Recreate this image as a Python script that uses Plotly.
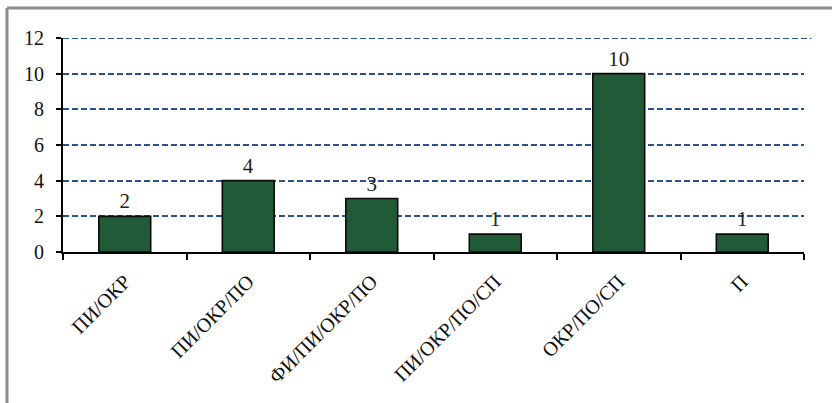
import plotly.graph_objects as go

categories = ["ПИ/ОКР", "ПИ/ОКР/ПО", "ФИ/ПИ/ОКР/ПО", "ПИ/ОКР/ПО/СП", "ОКР/ПО/СП", "П"]
counts = [2, 4, 3, 1, 10, 1]
y_ticks = [0, 2, 4, 6, 8, 10, 12]

W, H = 832, 403
L, R, T, B = 63, 28, 38, 151
pw, ph = W - L - R, H - T - B

def px_x(x):
    return (x - L) / pw

def px_y(y):
    return (H - B - y) / ph

serif = "Liberation Serif"
grid_color = "#2b5190"
frame = dict(color="#8e8e8e", width=3)

fig = go.Figure(
    go.Bar(
        x=categories,
        y=counts,
        width=0.42,
        marker=dict(
            color="#205a37",
            line=dict(color="#0a0a0a", width=1.6),
        ),
        text=[str(v) for v in counts],
        textposition="outside",
        textfont=dict(family=serif, size=21, color="#222"),
        cliponaxis=False,
    )
)

fig.update_layout(
    width=W,
    height=H,
    margin=dict(l=L, r=R, t=T, b=B),
    paper_bgcolor="white",
    plot_bgcolor="white",
    showlegend=False,
    bargap=0.58,
    font=dict(family=serif, color="#111"),
    shapes=[
        # outer frame: top and left edges
        dict(type="line", xref="paper", yref="paper",
             x0=px_x(7), x1=px_x(W), y0=px_y(8), y1=px_y(8), line=frame),
        dict(type="line", xref="paper", yref="paper",
             x0=px_x(7), x1=px_x(7), y0=px_y(8), y1=px_y(H), line=frame),
        # top gridline at the range edge
        dict(
            type="line",
            xref="paper",
            yref="y",
            x0=0,
            x1=1.01,
            y0=y_ticks[-1],
            y1=y_ticks[-1],
            line=dict(color=grid_color, width=2, dash="6px,3px"),
            layer="below",
        ),
    ],
)

fig.update_yaxes(
    range=[0, 12],
    tickvals=y_ticks,
    ticktext=[str(v) for v in y_ticks],
    tickfont=dict(family=serif, size=20, color="#111"),
    showgrid=True,
    gridcolor=grid_color,
    gridwidth=2,
    griddash="6px,3px",
    showline=True,
    linecolor="black",
    linewidth=2,
    ticks="outside",
    ticklen=5,
    tickwidth=2,
    tickcolor="black",
    zeroline=False,
    ticklabelstandoff=8,
)

fig.update_xaxes(
    tickangle=-45,
    tickfont=dict(family=serif, size=20, color="#111"),
    showline=True,
    linecolor="black",
    linewidth=2,
    ticks="outside",
    tickson="boundaries",
    ticklen=6,
    tickwidth=2,
    tickcolor="black",
    showgrid=False,
    ticklabelstandoff=8,
)

fig.write_html("out.html")
